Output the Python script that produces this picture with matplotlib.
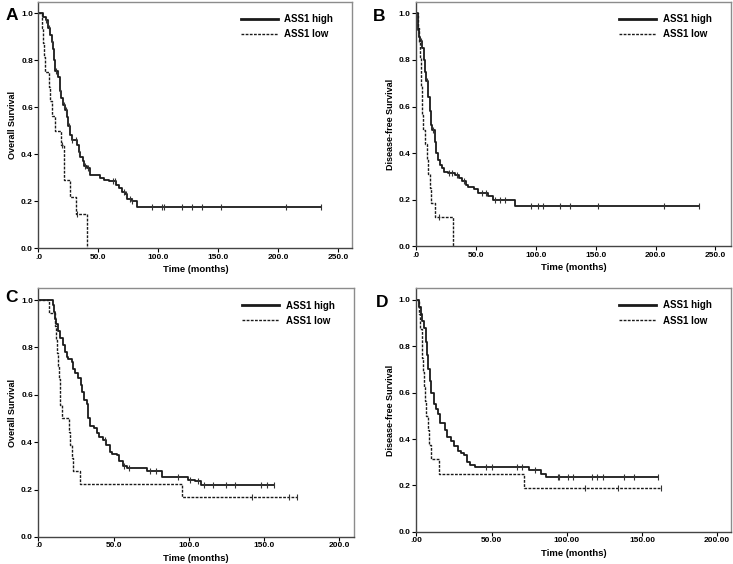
import numpy as np
import matplotlib
matplotlib.use("Agg")
import matplotlib.pyplot as plt
from matplotlib.lines import Line2D

plt.rcParams["font.family"] = ["Liberation Sans", "DejaVu Sans"]

# ---- panel A: overall survival, cohort 1 ----
a_high_t = [0, 4, 6, 8, 10, 11, 12, 13, 13.4, 16.4, 17.8, 19, 20.3, 22, 24, 25, 26, 27.6, 32,
            33.4, 35, 37, 37.9, 40.4, 43.2, 51, 55, 59, 65, 67, 70, 72, 74, 78, 82]
a_high_s = [1.0, 0.985, 0.97, 0.94, 0.91, 0.88, 0.85, 0.80, 0.755, 0.73, 0.67, 0.64, 0.61, 0.59,
            0.56, 0.52, 0.48, 0.46, 0.44, 0.41, 0.39, 0.37, 0.35, 0.34, 0.31, 0.30, 0.29, 0.285,
            0.27, 0.255, 0.24, 0.23, 0.21, 0.20, 0.175]
a_high_end = 236
a_high_cens = [6, 9, 11.5, 15, 18, 21, 23, 25.5, 28, 31, 34, 39, 41, 62, 64, 71, 73, 76, 78,
               95, 102.7, 104.7, 119.7, 128, 136.4, 152, 206.3, 235.5]
a_low_t = [0, 3, 4, 5, 5.6, 8.6, 9.7, 11.4, 13.4, 18.4, 20.9, 21.7, 26.7, 31.5, 40.6]
a_low_s = [1.0, 0.9375, 0.875, 0.8125, 0.75, 0.6875, 0.625, 0.5625, 0.50, 0.44, 0.37, 0.29,
           0.22, 0.147, 0.0]
a_low_end = 40.6
a_low_cens = [19.5, 32.5]

# ---- panel B: disease-free survival, cohort 1 ----
b_high_t = [0, 1, 2.2, 3, 5, 6, 7, 8.4, 10, 11, 12.5, 13.4, 15.3, 16.7, 18, 20, 21.4, 23, 26.4,
            32, 36, 38.4, 41.8, 43, 48, 51.5, 60, 64, 82.7]
b_high_s = [1.0, 0.93, 0.90, 0.88, 0.85, 0.80, 0.75, 0.71, 0.64, 0.58, 0.52, 0.50, 0.45, 0.40,
            0.37, 0.35, 0.335, 0.32, 0.315, 0.305, 0.295, 0.28, 0.265, 0.255, 0.245, 0.23,
            0.215, 0.20, 0.175]
b_high_end = 236.6
b_high_cens = [4, 9, 14, 27, 30, 34, 40, 55, 58, 66, 70, 74, 96, 102, 105.8, 119.7, 128.6, 152,
               206.6, 236.6]
b_low_t = [0, 1.5, 2, 3, 3.5, 4, 4.5, 5, 5.8, 7, 9, 10, 11.1, 12.5, 16, 30.6]
b_low_s = [1.0, 0.9375, 0.875, 0.8125, 0.75, 0.6875, 0.625, 0.5625, 0.50, 0.4375, 0.375,
           0.3125, 0.25, 0.1875, 0.125, 0.0]
b_low_end = 30.6
b_low_cens = [19]

# ---- panel C: overall survival, cohort 2 ----
c_high_t = [0, 9.5, 10, 11, 11.8, 13, 14, 16.2, 17.5, 19, 19.5, 22.4, 23.3, 24.6, 26.4, 28, 29,
            30, 32, 32.8, 34.4, 37, 39, 40.6, 43, 45, 47.7, 49, 52, 53.5, 56, 58.8, 72, 82,
            99.4, 104, 108.3]
c_high_s = [1.0, 0.98, 0.95, 0.92, 0.90, 0.87, 0.84, 0.81, 0.78, 0.76, 0.75, 0.74, 0.71, 0.69,
            0.67, 0.64, 0.61, 0.58, 0.56, 0.50, 0.47, 0.46, 0.44, 0.42, 0.41, 0.39, 0.36, 0.35,
            0.345, 0.32, 0.30, 0.29, 0.28, 0.255, 0.24, 0.235, 0.22]
c_high_end = 156.5
c_high_cens = [44, 57, 60, 74, 78, 93, 101, 106, 110, 116, 125, 131, 148, 152, 156.5]
c_low_t = [0, 6.7, 10.7, 11.5, 12, 12.8, 13.5, 14, 14.4, 15.5, 20.3, 21.3, 22.4, 22.9, 27.7, 95.7]
c_low_s = [1.0, 0.944, 0.889, 0.833, 0.778, 0.722, 0.667, 0.611, 0.556, 0.50, 0.444, 0.389,
           0.333, 0.278, 0.222, 0.167]
c_low_end = 172.3
c_low_cens = [142, 167, 172.3]

# ---- panel D: disease-free survival, cohort 2 ----
d_high_t = [0, 1.5, 3, 4, 5, 6.2, 7, 8, 9, 10, 11.5, 13, 14.5, 15.5, 18.8, 20.5, 23, 25, 27.7,
            29.5, 32, 33.9, 36, 38.8, 74.6, 83, 86]
d_high_s = [1.0, 0.97, 0.94, 0.91, 0.88, 0.82, 0.76, 0.70, 0.65, 0.60, 0.55, 0.53, 0.51, 0.47,
            0.44, 0.41, 0.39, 0.37, 0.35, 0.34, 0.33, 0.30, 0.29, 0.28, 0.265, 0.25, 0.235]
d_high_end = 160.6
d_high_cens = [46, 50, 67, 70, 79, 94, 95, 101, 104, 117, 120, 124, 138, 145, 160.6]
d_low_t = [0, 1.5, 2.7, 3.5, 4, 4.5, 5, 5.5, 6.6, 7.5, 8.2, 10, 15, 71.5]
d_low_s = [1.0, 0.9375, 0.875, 0.8125, 0.75, 0.6875, 0.625, 0.5625, 0.50, 0.4375, 0.375,
           0.3125, 0.25, 0.1875]
d_low_end = 163
d_low_cens = [112, 134, 163]

W, H = 733, 564

panels = [
    dict(letter="A", letter_xy=(11.5, 16), ylabel="Overall Survival", xmax=261.7,
         xticks=[0, 50, 100, 150, 200, 250], fmt="{:.1f}", zero=".0",
         high=(a_high_t, a_high_s, a_high_end, a_high_cens),
         low=(a_low_t, a_low_s, a_low_end, a_low_cens),
         pos=[0.0525, 0.560, 0.428, 0.437]),
    dict(letter="B", letter_xy=(379, 16.5), ylabel="Disease-free Survival", xmax=262.8,
         xticks=[0, 50, 100, 150, 200, 250], fmt="{:.1f}", zero=".0",
         high=(b_high_t, b_high_s, b_high_end, b_high_cens),
         low=(b_low_t, b_low_s, b_low_end, b_low_cens),
         pos=[0.568, 0.563, 0.429, 0.434]),
    dict(letter="C", letter_xy=(12, 297), ylabel="Overall Survival", xmax=209.8,
         xticks=[0, 50, 100, 150, 200], fmt="{:.1f}", zero=".0",
         high=(c_high_t, c_high_s, c_high_end, c_high_cens),
         low=(c_low_t, c_low_s, c_low_end, c_low_cens),
         pos=[0.0525, 0.048, 0.430, 0.441]),
    dict(letter="D", letter_xy=(382, 302), ylabel="Disease-free Survival", xmax=209.1,
         xticks=[0, 50, 100, 150, 200], fmt="{:.2f}", zero=".00",
         high=(d_high_t, d_high_s, d_high_end, d_high_cens),
         low=(d_low_t, d_low_s, d_low_end, d_low_cens),
         pos=[0.568, 0.057, 0.429, 0.432]),
]


def surv_at(t_steps, s_steps, t):
    i = np.searchsorted(t_steps, t, side="right") - 1
    return np.asarray(s_steps)[i]


def draw_curve(ax, data, ls, lw):
    t, s, end, cens = data
    tt = list(t) + [end]
    ss = list(s) + [s[-1]]
    ax.step(tt, ss, where="post", color="#1a1a1a", lw=lw, ls=ls)
    cy = [surv_at(t, s, c) for c in cens]
    ax.plot(cens, cy, ls="none", marker="|", ms=4, mew=0.8, color="#333333")


fig = plt.figure(figsize=(W / 100, H / 100), dpi=100)
for p in panels:
    ax = fig.add_axes(p["pos"])
    draw_curve(ax, p["high"], "-", 1.3)
    draw_curve(ax, p["low"], (0, (2, 1)), 1.0)
    ax.set_xlim(0, p["xmax"])
    ax.set_ylim(0, 1.05)
    ax.set_xticks(p["xticks"])
    ax.set_xticklabels([p["zero"]] + [p["fmt"].format(v) for v in p["xticks"][1:]])
    ax.set_yticks([0, 0.2, 0.4, 0.6, 0.8, 1.0])
    ax.set_yticklabels(["0.0", "0.2", "0.4", "0.6", "0.8", "1.0"])
    ax.tick_params(labelsize=6, length=3, width=0.8, pad=1)
    for lab in ax.get_xticklabels() + ax.get_yticklabels():
        lab.set_fontweight("bold")
    for sp in ax.spines.values():
        sp.set_color("#8c8c8c")
        sp.set_linewidth(1.0)
    ax.spines["left"].set_color("#444444")
    ax.spines["bottom"].set_color("#444444")
    ax.set_ylabel(p["ylabel"], fontsize=6.5, fontweight="bold", labelpad=3)
    ax.set_xlabel("Time (months)", fontsize=6.8, fontweight="bold", labelpad=3)
    handles = [Line2D([], [], color="#1a1a1a", lw=2.0, ls="-"),
               Line2D([], [], color="#1a1a1a", lw=1.0, ls=(0, (2, 1)))]
    ax.legend(handles, ["ASS1 high", "ASS1 low"], loc="upper right",
              bbox_to_anchor=(0.952, 0.966), borderaxespad=0, frameon=False,
              prop=dict(size=7, weight="bold"), handlelength=3.8, handletextpad=0.7,
              labelspacing=0.55)
    lx, ly = p["letter_xy"]
    fig.text(lx / W, 1 - ly / H, p["letter"], fontsize=12.5, fontweight="bold",
             ha="center", va="center")

fig.savefig("out.png", dpi=100)
